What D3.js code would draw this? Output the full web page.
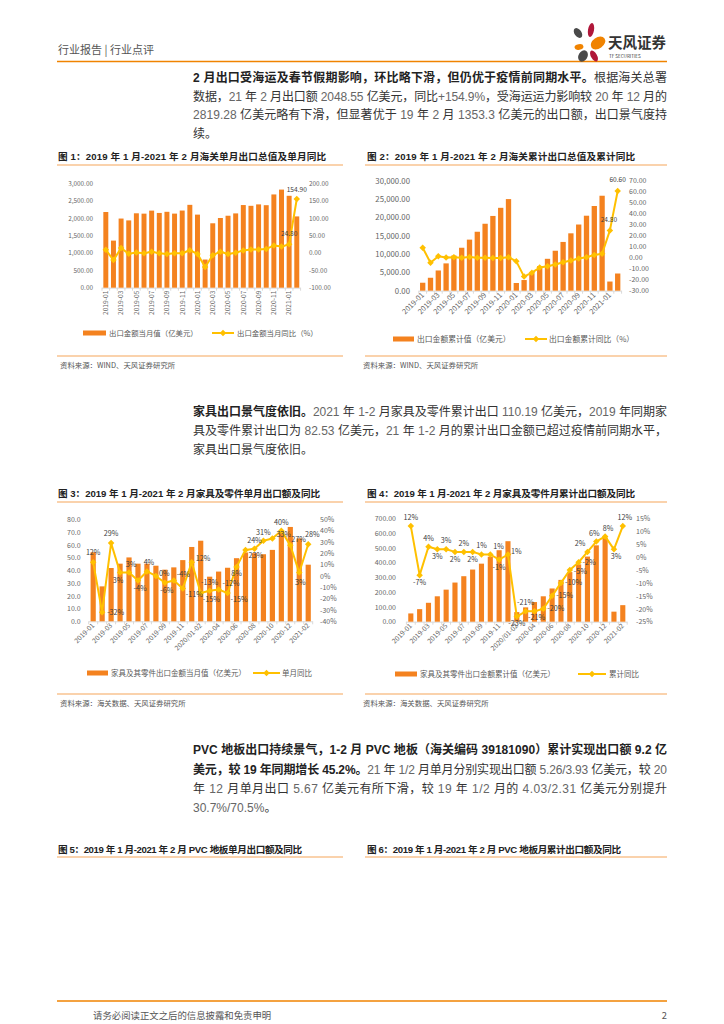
<!DOCTYPE html>
<html><head><meta charset="utf-8">
<script src="https://cdn.jsdelivr.net/npm/d3@7"></script>
<style>
body{margin:0;background:#fff}
svg{display:block}
text{font-family:"Noto Sans CJK SC","Liberation Sans",sans-serif}
</style></head><body>
<svg id="page" width="724" height="1024"></svg>
<script>
// ---------------- DATA ----------------
const months = ["2019-01","2019-02","2019-03","2019-04","2019-05","2019-06","2019-07","2019-08","2019-09","2019-10","2019-11","2019-12",
  "2020-01","2020-02","2020-03","2020-04","2020-05","2020-06","2020-07","2020-08","2020-09","2020-10","2020-11","2020-12","2021-01","2021-02"];
const exportMonthly = [2175,1353.3,1987,1934,2138,2128,2215,2148,2181,2129,2217,2381,2100,809,1851,2003,2068,2135,2375,2353,2394,2371,2680,2819.28,2641,2048.55];
const exportMonthlyYoY = [9.1,-20.7,14.0,-2.7,1.1,-1.3,3.3,-1.0,-3.2,-0.9,-1.1,7.6,-3.0,-40.6,-6.6,3.5,-3.3,0.5,7.2,9.5,9.9,11.4,21.1,18.1,24.8,154.9];
const exportCum = [2175,3528,5515,7449,9587,11715,13930,16078,18259,20388,22605,24985,2100,2909,4700,6700,8700,10900,13300,15650,18050,20450,23100,25900,2500,4690];
const exportCumYoY = [9.1,-4.6,1.4,0.2,0.5,-0.1,0.6,0.0,-0.1,-0.2,-0.3,0.5,-3.3,-17.2,-13.6,-9.0,-7.7,-6.2,-4.1,-2.5,-0.8,0.5,2.5,3.6,24.8,60.6];

const furnCats = ["2019-01","2019-02","2019-03","2019-04","2019-05","2019-06","2019-07","2019-08","2019-09","2019-10","2019-11","2019-12",
  "2020/01-02","2020-03","2020-04","2020-05","2020-06","2020-07","2020-08","2020-09","2020-10","2020-11","2020-12","2021-01","2021-02"];
const furnMonthly = [54.2,27.4,41.8,45.2,50.1,45.2,45.2,43.6,40.5,42.3,48.0,58.3,63.2,35.0,39.0,42.0,49.5,54.0,53.4,52.6,56.0,71.0,74.0,65.0,44.4];
const furnMonthlyYoY = [12,-32,29,3,3,-4,4,0,-6,-4,-11,12,-15,-13,-12,-15,8,23,24,31,33,40,27,3,28];
const furnCum = [56,85,128,172,217,265,308,353,393,440,484,545,65,97,133,172,225,283,336,388,441,517,570,68,112];
const furnCumYoY = [12,-7,4,3,3,2,2,2,1,1,-1,1,-23,-21,-21,-20,-15,-10,-5,-2,2,6,8,3,12];

// ---------------- LABEL PLACEMENT (style: dx, dy, anchor) ----------------
const furnMonthlyLabelOff = [[0,-7,"m"],[5,3,"s"],[0,-7,"m"],[-2,10,"m"],[2,-6,"m"],[2,10,"m"],[2,-6,"m"],[3,0,"s"],[2,10,"m"],[3,-4,"s"],
  [3,9,"s"],[4,-1,"s"],[2,9,"s"],[0,-6,"m"],[4,-4,"s"],[3,9,"s"],[0,9,"m"],[3,8,"s"],[0,-6,"m"],[0,-6,"m"],[4,-2,"s"],[0,-6,"m"],[1,-3,"s"],[1,12,"m"],[4,-7,"m"]];
const furnCumLabelOff = [[0,-6,"m"],[0,10,"m"],[0,-6,"m"],[0,10,"m"],[0,-6,"m"],[0,10,"m"],[0,-6,"m"],[0,10,"m"],[0,-6,"m"],[3,-5,"s"],
  [0,10,"m"],[3,0,"s"],[0,9,"m"],[0,-6,"m"],[2,9,"m"],[4,2,"s"],[4,2,"s"],[4,2,"s"],[4,4,"s"],[4,3,"s"],[-2,-6,"e"],[-2,-6,"m"],[3,-5,"m"],[2,10,"m"],[2,-6,"m"]];

// ---------------- STYLE ----------------
const BAR = "#F4821F", LINE = "#FFC000", ORANGE = "#F08300", SEP = "#F6A65A";
const svg = d3.select("#page");
const minusFix = f => d => f(d).replace("\u2212","-");
const anchorOf = { m: "middle", s: "start", e: "end" };

// ---------------- TEXT HELPERS ----------------
function richLine(x, y, parts, width, size) {
  size = size || 12;
  const t = svg.append("text").attr("x", x).attr("y", y).attr("font-size", size).attr("fill", "#333");
  parts.forEach(([s, bold]) => {
    s.split(/([\x20-\x7E]+)/).filter(p => p.length).forEach(p => {
      const ascii = /^[\x20-\x7E]+$/.test(p);
      const ts = t.append("tspan").text(p).style("white-space","pre");
      if (bold) ts.attr("font-weight", "bold").attr("fill", "#222");
      if (ascii) {
        ts.attr("font-family", bold ? "Liberation Sans" : "'Liberation Sans Narrow','Liberation Sans'");
        if (!bold) ts.attr("fill", "#666");
      }
    });
  });
  if (width) {
    const n = t.text().length;
    const w = t.node().getComputedTextLength();
    t.attr("letter-spacing", (width - w) / (n - 1));
  }
  return t;
}
function hline(x1, x2, y, color, w) {
  svg.append("line").attr("x1", x1).attr("x2", x2).attr("y1", y).attr("y2", y).attr("stroke", color).attr("stroke-width", w || 1);
}
function title(x, y, s, w) { richLine(x, y, [[s, true]], w, 9.6); }
function source(x, y, s) {
  svg.append("text").attr("x", x).attr("y", y).attr("font-size", 7.4).attr("fill", "#555").text(s);
}

// ---------------- HEADER ----------------
svg.append("text").attr("x", 58).attr("y", 54).attr("font-size", 11).attr("fill", "#555").text("行业报告 | 行业点评");
hline(57, 667, 61.5, ORANGE, 1.6);
const logo = svg.append("g");
[[578,33,3.5,5.5,-35,"#4a4a4a"],[591,30,3,7,10,"#B0173A"],[598,43,5.5,8,55,"#F08300"],[579,47,2.8,4.5,80,"#F08300"],[583,56,4.5,6,30,"#4a4a4a"],[594,56,3,6,-30,"#B0173A"]]
  .forEach(([cx,cy,rx,ry,a,c]) => logo.append("ellipse").attr("cx",cx).attr("cy",cy).attr("rx",rx).attr("ry",ry)
    .attr("transform",`rotate(${a},${cx},${cy})`).attr("fill",c));
svg.append("text").attr("x", 608).attr("y", 48).attr("font-size", 14.5).attr("font-weight", "bold").attr("fill", "#333").text("天风证券");
svg.append("text").attr("x", 609).attr("y", 57.5).attr("font-size", 4.6).attr("fill", "#333").attr("font-family","Liberation Sans").text("TF SECURITIES");

// ---------------- PARAGRAPH 1 ----------------
richLine(193, 81.5, [["2 月出口受海运及春节假期影响，环比略下滑，但仍优于疫情前同期水平。", true], ["根据海关总署", false]], 474);
richLine(193, 100.5, [["数据，21 年 2 月出口额 2048.55 亿美元，同比+154.9%，受海运运力影响较 20 年 12 月的", false]], 474);
richLine(193, 119, [["2819.28 亿美元略有下滑，但显著优于 19 年 2 月 1353.3 亿美元的出口额，出口景气度持", false]], 474);
richLine(193, 137.5, [["续。", false]]);

// ---------------- CHART FUNCTION ----------------
function diamond(g, cx, cy, s) {
  g.append("rect").attr("x", cx - s/2).attr("y", cy - s/2).attr("width", s).attr("height", s)
    .attr("transform", `rotate(45,${cx},${cy})`).attr("fill", LINE);
}
function combo(c) {
  const g = svg.append("g");
  const n = c.cats.length;
  const x = d3.scaleBand().domain(c.cats).range([c.x0, c.x1]).paddingInner(c.pad).paddingOuter(c.pad / 2);
  const yL = d3.scaleLinear().domain(c.lDom).range([c.yB, c.yT]);
  const yR = d3.scaleLinear().domain(c.rDom).range([c.yB, c.yT]);
  const cx = i => x(c.cats[i]) + x.bandwidth() / 2;
  g.append("line").attr("x1", c.x0).attr("x2", c.x1).attr("y1", c.yB + .5).attr("y2", c.yB + .5).attr("stroke", "#d9d9d9");
  g.selectAll("line.xt").data(d3.range(0, n + 1, 1)).join("line").attr("class", "xt")
    .attr("x1", i => c.x0 + i * x.step()).attr("x2", i => c.x0 + i * x.step())
    .attr("y1", c.yB).attr("y2", c.yB + 3).attr("stroke", "#d9d9d9");
  g.selectAll("rect.bar").data(c.bars).join("rect").attr("class", "bar")
    .attr("x", (d, i) => x(c.cats[i])).attr("width", x.bandwidth())
    .attr("y", d => yL(d)).attr("height", d => yL(0) - yL(d)).attr("fill", BAR);
  g.append("path").datum(c.line).attr("fill", "none").attr("stroke", LINE).attr("stroke-width", 2)
    .attr("stroke-linejoin", "round")
    .attr("d", d3.line().x((d, i) => cx(i)).y(d => yR(d)));
  c.line.forEach((d, i) => diamond(g, cx(i), yR(d), c.ms || 4.6));
  const la = g.append("g").attr("transform", `translate(${c.lx},0)`)
    .call(d3.axisLeft(yL).tickValues(c.lTicks).tickFormat(c.lFmt).tickSize(0).tickPadding(0));
  la.select(".domain").remove();
  la.selectAll("text").attr("font-size", c.lfs).attr("fill", "#666").attr("font-family", "Liberation Sans");
  const ra = g.append("g").attr("transform", `translate(${c.rx},0)`)
    .call(d3.axisRight(yR).tickValues(c.rTicks).tickFormat(c.rFmt).tickSize(0).tickPadding(0));
  ra.select(".domain").remove();
  ra.selectAll("text").attr("font-size", c.rfs).attr("fill", "#666").attr("font-family", "Liberation Sans");
  const xa = g.append("g").attr("transform", `translate(0,${c.yB + 3})`)
    .call(d3.axisBottom(x).tickValues(c.cats.filter((d, i) => i % 2 === 0)).tickSize(0));
  xa.select(".domain").remove();
  xa.selectAll("text").attr("font-size", c.xfs).attr("fill", "#666").attr("font-family", "Liberation Sans")
    .attr("text-anchor", "end").attr("x", 0).attr("y", 0).attr("dy", "0.35em")
    .attr("transform", `rotate(${c.xrot})`);
  if (c.labels) c.labels.forEach(([i, txt, off]) => {
    g.append("text").attr("x", cx(i) + off[0]).attr("y", yR(c.line[i]) + off[1]).attr("text-anchor", anchorOf[off[2]])
      .attr("font-size", c.dfs).attr("fill", "#404040").attr("font-family", "Liberation Sans").text(txt);
  });
  const L = c.legend;
  g.append("rect").attr("x", L.r0).attr("y", L.y - 2.5).attr("width", L.r1 - L.r0).attr("height", 5).attr("fill", BAR);
  g.append("text").attr("x", L.t1).attr("y", L.y + 2.7).attr("font-size", L.fs).attr("fill", "#595959").text(L.s1);
  g.append("line").attr("x1", L.l0).attr("x2", L.l1).attr("y1", L.y).attr("y2", L.y).attr("stroke", LINE).attr("stroke-width", 2);
  diamond(g, (L.l0 + L.l1) / 2, L.y, 4.6);
  g.append("text").attr("x", L.t2).attr("y", L.y + 2.7).attr("font-size", L.fs).attr("fill", "#595959").text(L.s2);
}

// ---------------- CHART 1 ----------------
title(58, 159.5, "图 1：2019 年 1 月-2021 年 2 月海关单月出口总值及单月同比", 268);
hline(57, 343, 165, SEP, 1.2);
combo({
  cats: months, bars: exportMonthly, line: exportMonthlyYoY,
  x0: 102, x1: 300.6, pad: 0.35, yB: 287.7, yT: 183.3,
  lDom: [0, 3000], rDom: [-100, 200], lTicks: d3.range(0, 3001, 500), rTicks: d3.range(-100, 201, 50),
  lFmt: minusFix(d3.format(",.2f")), rFmt: minusFix(d3.format(".2f")),
  lx: 93, rx: 309, lfs: 6.4, rfs: 6.4, xfs: 6.6, xrot: -90, dfs: 6.6,
  labels: [[24, "24.80", [0, -8, "m"]], [25, "154.90", [0, -7, "m"]]],
  legend: { y: 333, r0: 83, r1: 106, t1: 109, s1: "出口金额当月值（亿美元）", l0: 212, l1: 234, t2: 237, s2: "出口金额当月同比（%）", fs: 7.4 }
});
hline(57, 343, 356, SEP, 1.2);
source(60, 368, "资料来源：WIND、天风证券研究所");

// ---------------- CHART 2 ----------------
title(367, 159.5, "图 2：2019 年 1 月-2021 年 2 月海关累计出口总值及累计同比", 268);
hline(365, 667, 165, SEP, 1.2);
combo({
  cats: months, bars: exportCum, line: exportCumYoY,
  x0: 418.8, x1: 621.6, pad: 0.32, yB: 290.7, yT: 180.7,
  lDom: [0, 30000], rDom: [-30, 70], lTicks: d3.range(0, 30001, 5000), rTicks: d3.range(-30, 71, 10),
  lFmt: minusFix(d3.format(",.2f")), rFmt: minusFix(d3.format(".2f")),
  lx: 410, rx: 629, lfs: 7.8, rfs: 7.0, xfs: 7.4, xrot: -45, dfs: 6.6,
  labels: [[24, "24.80", [-1, -8, "m"]], [25, "60.60", [0, -9, "m"]]],
  legend: { y: 339, r0: 393, r1: 414, t1: 417, s1: "出口金额累计值（亿美元）", l0: 525, l1: 547, t2: 549, s2: "出口金额累计同比（%）", fs: 7.8 }
});
hline(365, 667, 356, SEP, 1.2);
source(363, 368, "资料来源：WIND、天风证券研究所");

// ---------------- PARAGRAPH 2 ----------------
richLine(193, 415.5, [["家具出口景气度依旧。", true], ["2021 年 1-2 月家具及零件累计出口 110.19 亿美元，2019 年同期家", false]], 474);
richLine(193, 435, [["具及零件累计出口为 82.53 亿美元，21 年 1-2 月的累计出口金额已超过疫情前同期水平，", false]], 474);
richLine(193, 454, [["家具出口景气度依旧。", false]]);

// ---------------- CHART 3 ----------------
const pct = v => (v < 0 ? "-" : "") + Math.abs(v) + "%";
title(58, 497, "图 3：2019 年 1 月-2021 年 2 月家具及零件单月出口额及同比", 262);
hline(57, 343, 502, SEP, 1.2);
combo({
  cats: furnCats, bars: furnMonthly, line: furnMonthlyYoY,
  x0: 88.7, x1: 312.7, pad: 0.42, yB: 621.3, yT: 519.3,
  lDom: [0, 80], rDom: [-40, 50], lTicks: d3.range(0, 81, 10), rTicks: d3.range(-40, 51, 10),
  lFmt: d3.format(".1f"), rFmt: d => pct(d),
  lx: 80.7, rx: 320, lfs: 7, rfs: 7, xfs: 6.8, xrot: -45, dfs: 7.2,
  labels: furnMonthlyYoY.map((v, i) => [i, pct(v), furnMonthlyLabelOff[i]]),
  legend: { y: 673, r0: 87, r1: 108, t1: 111, s1: "家具及其零件出口金额当月值（亿美元）", l0: 253, l1: 280, t2: 282, s2: "单月同比", fs: 7.5 }
});
hline(57, 343, 694, SEP, 1.2);
source(60, 706, "资料来源：海关数据、天风证券研究所");

// ---------------- CHART 4 ----------------
title(367, 497, "图 4：2019 年 1 月-2021 年 2 月家具及零件月累计出口额及同比", 268);
hline(365, 667, 502, SEP, 1.2);
combo({
  cats: furnCats, bars: furnCum, line: furnCumYoY,
  x0: 406.4, x1: 627.2, pad: 0.42, yB: 621.7, yT: 518.3,
  lDom: [0, 700], rDom: [-25, 15], lTicks: d3.range(0, 701, 100), rTicks: d3.range(-25, 16, 5),
  lFmt: d3.format(".2f"), rFmt: d => pct(d),
  lx: 396, rx: 636, lfs: 7, rfs: 7, xfs: 6.8, xrot: -45, dfs: 7.2,
  labels: furnCumYoY.map((v, i) => [i, pct(v), furnCumLabelOff[i]]),
  legend: { y: 674, r0: 395, r1: 417, t1: 420, s1: "家具及其零件出口金额累计值（亿美元）", l0: 578, l1: 606, t2: 609, s2: "累计同比", fs: 7.5 }
});
hline(365, 667, 694, SEP, 1.2);
source(363, 706, "资料来源：海关数据、天风证券研究所");

// ---------------- PARAGRAPH 3 ----------------
richLine(193, 754, [["PVC 地板出口持续景气，1-2 月 PVC 地板（海关编码 39181090）累计实现出口额 9.2 亿", true]], 474);
richLine(193, 773.5, [["美元，较 19 年同期增长 45.2%。", true], ["21 年 1/2 月单月分别实现出口额 5.26/3.93 亿美元，较 20", false]], 474);
richLine(193, 793, [["年 12 月单月出口 5.67 亿美元有所下滑，较 19 年 1/2 月的 4.03/2.31 亿美元分别提升", false]], 474);
richLine(193, 812, [["30.7%/70.5%。", false]]);

// ---------------- CHART 5/6 TITLES ----------------
title(58, 852.5, "图 5：2019 年 1 月-2021 年 2 月 PVC 地板单月出口额及同比", 244);
hline(57, 343, 857, SEP, 1.2);
title(367, 852.5, "图 6：2019 年 1 月-2021 年 2 月 PVC 地板月累计出口额及同比", 254);
hline(365, 667, 857, SEP, 1.2);

// ---------------- FOOTER ----------------
hline(57, 667, 1001, ORANGE, 1.6);
svg.append("text").attr("x", 93).attr("y", 1019).attr("font-size", 9.4).attr("fill", "#555").text("请务必阅读正文之后的信息披露和免责申明");
svg.append("text").attr("x", 667).attr("y", 1019).attr("text-anchor", "end").attr("font-size", 9.4).attr("fill", "#555").attr("font-family","Liberation Sans").text("2");
</script>
</body></html>
